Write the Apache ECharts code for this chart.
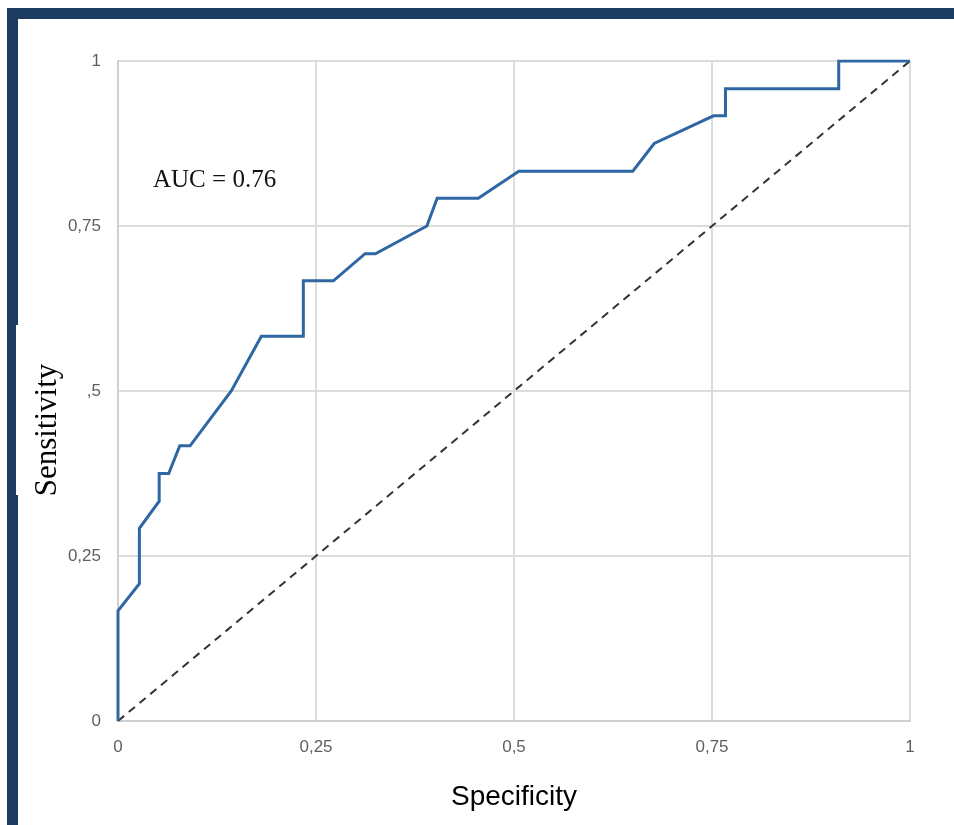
<!DOCTYPE html>
<html>
<head>
<meta charset="utf-8">
<script src="https://cdn.jsdelivr.net/npm/echarts@6/dist/echarts.min.js"></script>
<style>
  html, body { margin: 0; padding: 0; background: #ffffff; }
  #wrap { position: relative; width: 954px; height: 825px; overflow: hidden; background: #ffffff; }
  #chart { position: absolute; left: 0; top: 0; width: 954px; height: 825px; }
  .frame-top { position: absolute; left: 7px; top: 8px; width: 947px; height: 11px; background: #1b3b60; }
  .frame-left { position: absolute; left: 7px; top: 8px; width: 11px; height: 817px; background: #1b3b60; }
  .frame-notch { position: absolute; left: 16px; top: 325px; width: 3px; height: 170px; background: #ffffff; }
</style>
</head>
<body>
<div id="wrap">
  <div id="chart"></div>
  <div class="frame-top"></div>
  <div class="frame-left"></div>
  <div class="frame-notch"></div>
</div>
<script>
// ROC curve: specificity axis (x) vs sensitivity (y)
const rocSpecificity = [0, 0, 0.027, 0.027, 0.052, 0.052, 0.064, 0.078, 0.091, 0.143, 0.181, 0.234, 0.234, 0.272, 0.312, 0.325, 0.390, 0.403, 0.455, 0.506, 0.650, 0.677, 0.752, 0.767, 0.767, 0.910, 0.910, 1];
const rocSensitivity = [0, 0.167, 0.208, 0.292, 0.333, 0.375, 0.375, 0.417, 0.417, 0.5, 0.583, 0.583, 0.667, 0.667, 0.708, 0.708, 0.75, 0.792, 0.792, 0.833, 0.833, 0.875, 0.917, 0.917, 0.958, 0.958, 1, 1];

// Chance (reference) diagonal
const diagonalX = [0, 1];
const diagonalY = [0, 1];

// Tick labels
const xTickLabels = { '0': '0', '0.25': '0,25', '0.5': '0,5', '0.75': '0,75', '1': '1' };
const yTickLabels = { '0': '0', '0.25': '0,25', '0.5': ',5', '0.75': '0,75', '1': '1' };

const aucText = 'AUC = 0.76';
const yTitle = 'Sensitivity';

const rocData = rocSpecificity.map((x, i) => [x, rocSensitivity[i]]);
const diagData = diagonalX.map((x, i) => [x, diagonalY[i]]);

const chart = echarts.init(document.getElementById('chart'), null, { renderer: 'canvas' });

const tickStyle = { color: '#5f5f5f', fontSize: 17, fontFamily: 'Liberation Sans, Arial, sans-serif' };
const gridLine = { show: true, lineStyle: { color: '#dcdcdc', width: 2 } };

chart.setOption({
  animation: false,
  backgroundColor: '#ffffff',
  grid: { left: 118, top: 61, right: 44, bottom: 104, containLabel: false },
  xAxis: {
    type: 'value', min: 0, max: 1, interval: 0.25,
    name: 'Specificity', nameLocation: 'middle', nameGap: 62,
    nameTextStyle: { color: '#000000', fontSize: 28, fontFamily: 'Liberation Sans, Arial, sans-serif' },
    axisLine: { show: true, lineStyle: { color: '#d0d0d0', width: 2 } },
    axisTick: { show: false },
    splitLine: gridLine,
    axisLabel: Object.assign({ margin: 18, formatter: v => xTickLabels[String(v)] ?? '' }, tickStyle)
  },
  yAxis: {
    type: 'value', min: 0, max: 1, interval: 0.25,
    axisLine: { show: true, lineStyle: { color: '#d0d0d0', width: 2 } },
    axisTick: { show: false },
    splitLine: gridLine,
    axisLabel: Object.assign({ margin: 17, formatter: v => yTickLabels[String(v)] ?? '' }, tickStyle)
  },
  graphic: [
    {
      type: 'text', left: 153, top: 168,
      style: { text: aucText, fill: '#111111', font: '25px "Liberation Serif", "Times New Roman", serif' }
    },
    {
      type: 'text', x: 48, y: 430, rotation: Math.PI / 2, z: 10,
      style: { text: yTitle, fill: '#000000', align: 'center', verticalAlign: 'middle',
               font: '31px "Liberation Serif", "Times New Roman", serif' }
    }
  ],
  series: [
    {
      type: 'line', data: diagData, symbol: 'none', z: 2,
      lineStyle: { color: '#333333', width: 2, type: [8, 6] }
    },
    {
      type: 'line', data: rocData, symbol: 'none', z: 3,
      lineStyle: { color: '#2e67a3', width: 3, join: 'miter' }
    }
  ]
});
</script>
</body>
</html>
